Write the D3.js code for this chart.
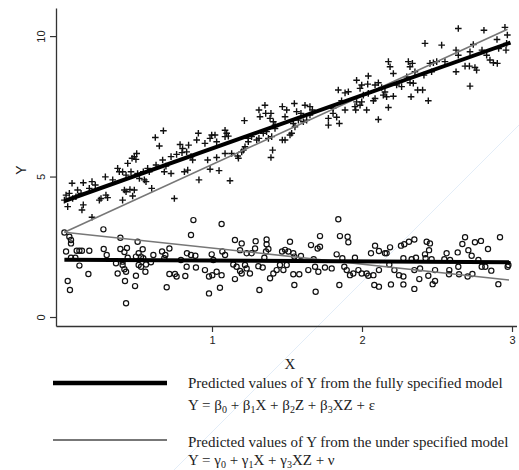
<!DOCTYPE html>
<html>
<head>
<meta charset="utf-8">
<script src="https://cdn.jsdelivr.net/npm/d3@7"></script>
<style>
  body { margin: 0; background: #fff; }
  svg { display: block; }
</style>
</head>
<body>
<svg id="chart" width="519" height="470"></svg>
<script>
/*
    Scatter of Y against X with predicted lines from two models
 */

// group Z = 1, drawn as crosses [X, Y]
const crossPts = [
    [0.676,6.63],[0.622,6.39],[0.649,6.09],[0.787,6.14],[0.804,6.00],[0.844,6.12],[0.831,5.88],[0.800,5.85],
    [0.764,5.79],[0.860,5.71],[0.871,5.59],[0.727,5.71],[0.671,5.59],[0.627,5.41],[0.693,5.37],[0.682,5.17],
    [0.727,5.11],[0.816,5.17],[0.838,5.23],[0.498,5.82],[0.482,5.71],[0.493,5.61],[0.467,5.65],[0.438,5.47],
    [0.371,5.29],[0.382,5.17],[0.404,5.17],[0.427,5.05],[0.460,5.17],[0.504,5.11],[0.542,5.17],[0.571,5.29],
    [0.582,5.17],[0.549,4.88],[0.516,4.93],[0.560,4.82],[0.416,4.52],[0.427,4.46],[0.453,4.54],[0.482,4.52],
    [0.598,4.58],[0.749,4.22],[0.404,4.16],[0.471,4.31],[0.289,4.99],[0.293,4.34],[0.304,4.25],[0.260,4.22],
    [0.249,4.16],[0.338,4.88],[0.222,4.70],[0.200,4.82],[0.182,4.58],[0.142,4.78],[0.104,4.52],[0.067,4.76],
    [0.049,4.40],[0.027,4.34],[0.016,4.16],[0.038,3.93],[0.071,4.22],[0.093,4.28],[0.127,4.40],[0.142,3.99],
    [0.133,3.81],[0.200,3.55],
    [1.353,7.54],[1.313,7.37],[1.320,7.13],[1.358,7.25],[1.393,7.25],[1.387,7.07],[1.409,6.95],[1.420,6.83],
    [1.469,7.49],[1.498,7.37],[1.487,7.13],[1.549,7.60],[1.564,7.31],[1.593,7.25],[1.620,7.54],[1.653,7.49],
    [1.669,7.37],[1.653,7.19],[1.631,7.01],[1.609,6.95],[1.576,7.01],[1.542,6.89],[1.553,6.77],[1.531,6.54],
    [1.520,6.48],[1.487,6.30],[1.469,6.30],[1.398,6.42],[1.376,6.36],[1.420,6.71],[1.364,6.60],[1.342,6.54],
    [1.313,6.36],[1.298,6.30],[1.264,6.42],[1.242,6.36],[1.242,6.24],[1.220,6.06],[1.209,5.94],[1.198,5.88],
    [1.171,5.73],[1.176,5.65],[1.216,6.99],[1.404,5.94],[1.393,5.68],[1.087,6.65],[1.098,6.54],[1.087,6.42],
    [1.109,6.44],[1.020,6.48],[0.998,6.48],[0.987,6.36],[1.031,6.24],[0.953,6.18],[0.909,6.54],[0.898,6.30],
    [0.971,5.59],[1.031,5.68],[1.087,5.82],[1.131,5.82],[0.987,5.26],[1.047,5.21],[0.913,4.88],[1.120,4.85],
    [2.176,9.09],[2.187,8.91],[2.209,8.67],[2.309,9.09],[2.336,9.03],[2.320,8.91],[2.353,8.73],[2.298,8.55],
    [2.320,8.34],[2.342,8.32],[2.264,8.20],[2.231,8.26],[2.327,7.84],[2.371,8.08],[2.109,8.34],[2.131,8.17],
    [2.087,8.26],[2.042,8.58],[2.038,8.29],[1.964,8.43],[1.998,8.26],[1.987,8.14],[2.153,8.01],[2.142,7.90],
    [2.164,7.84],[2.209,7.86],[2.087,7.78],[2.076,7.70],[2.042,7.96],[2.009,7.90],[1.964,7.66],[1.998,7.66],
    [1.987,7.54],[1.953,7.49],[1.909,8.02],[1.887,7.98],[1.842,8.08],[2.031,7.37],[1.958,7.37],[2.176,7.46],
    [2.109,7.03],[1.864,7.70],[1.807,7.43],[1.807,7.25],[1.776,7.07],[1.831,7.11],[1.776,6.83],[1.849,6.89],
    [1.887,7.37],
    [2.642,10.27],[2.813,10.21],[2.953,10.31],[2.969,10.04],[2.420,9.74],[2.531,9.68],[2.742,9.70],[2.627,9.50],
    [2.642,9.32],[2.720,9.44],[2.800,9.50],[2.900,9.88],[2.911,9.56],[2.964,9.74],[2.960,9.50],[2.831,9.32],
    [2.853,9.15],[2.876,9.05],[2.902,9.03],[2.498,9.09],[2.476,9.05],[2.453,9.03],[2.553,9.09],[2.627,8.73],
    [2.687,8.93],[2.716,8.93],[2.753,8.88],[2.764,8.79],[2.720,8.22],[2.413,8.61],[2.464,8.73],[2.404,8.08],
    [2.442,7.70]
];

// group Z = 0, drawn as circles [X, Y]
const circlePts = [
    [0.016,3.01],[0.049,2.86],[0.060,2.74],[0.060,2.62],[0.027,2.33],[0.098,2.36],[0.116,2.36],[0.133,2.36],
    [0.182,2.36],[0.060,2.11],[0.089,2.11],[0.116,1.83],[0.176,1.53],[0.038,1.28],[0.053,0.96],[0.276,3.12],
    [0.389,2.82],[0.504,2.68],[0.278,2.42],[0.298,2.21],[0.389,2.42],[0.433,2.46],[0.416,2.31],[0.538,2.41],
    [0.511,2.27],[0.493,2.15],[0.527,2.15],[0.542,2.09],[0.438,2.11],[0.404,1.97],[0.360,1.91],[0.404,1.85],
    [0.416,1.70],[0.427,1.61],[0.371,1.55],[0.420,1.28],[0.493,1.47],[0.487,1.10],[0.427,0.49],[0.511,1.85],
    [0.527,1.79],[0.560,1.87],[0.556,1.61],[0.593,1.95],[0.609,2.21],[0.667,2.33],[0.689,2.21],[0.716,2.44],
    [0.682,2.09],[0.716,1.53],[0.698,1.06],[0.753,1.53],[0.764,1.44],[0.822,1.46],[0.831,1.79],[0.793,2.03],
    [0.833,2.27],[0.860,2.21],[0.889,2.18],[0.860,2.92],[0.876,3.45],[0.893,1.76],
    [1.064,3.31],[1.153,2.74],[1.198,2.62],[1.187,2.38],[1.291,2.70],[1.287,2.44],[1.364,2.76],[1.364,2.59],
    [1.376,2.42],[1.360,2.33],[1.520,2.68],[1.467,2.33],[1.487,2.39],[1.509,2.33],[1.542,2.27],[1.549,2.15],
    [1.593,2.17],[1.660,2.56],[1.704,2.44],[1.720,2.50],[1.720,2.88],[1.842,3.48],[1.853,2.88],[1.904,2.86],
    [1.909,2.66],[1.831,2.23],[1.869,2.09],[1.678,2.06],[0.998,2.23],[1.069,2.33],[1.087,2.21],[1.231,2.27],
    [1.264,2.27],[1.349,2.11],[0.953,1.67],[0.980,1.44],[1.002,1.49],[1.031,1.61],[1.064,1.49],[1.053,1.04],
    [0.980,0.84],[1.142,1.87],[1.164,1.79],[1.153,1.35],[1.187,1.64],[1.198,1.55],[1.220,1.85],[1.231,1.73],
    [1.253,1.55],[1.309,1.81],[1.338,1.76],[1.316,0.96],[1.387,1.38],[1.409,1.55],[1.431,1.67],[1.453,1.85],
    [1.476,1.67],[1.498,1.85],[1.542,1.52],[1.582,1.52],[1.549,1.14],[1.642,1.67],[1.687,1.79],[1.709,1.61],
    [1.753,1.76],[1.798,1.73],[1.691,0.90],[1.849,1.14],[1.882,1.79],[1.898,1.67],[1.920,1.49],[1.942,1.55],
    [1.009,2.03],
    [1.953,2.11],[1.976,1.67],[1.998,1.55],[2.031,1.55],[2.042,1.47],[2.076,1.49],[2.113,1.67],[2.082,1.14],
    [2.113,1.08],[2.060,2.27],[2.087,2.54],[2.113,2.35],[2.153,2.27],[2.164,2.27],[2.187,2.48],[2.182,1.87],
    [2.193,1.16],[2.216,1.67],[2.247,1.49],[2.276,1.44],[2.276,1.16],[2.260,2.54],[2.282,2.59],[2.313,2.68],
    [2.349,2.76],[2.276,2.09],[2.331,2.06],[2.360,2.11],[2.349,1.67],[2.382,1.35],[2.349,1.00],[2.387,1.73],
    [2.431,2.68],[2.453,2.62],[2.447,2.38],[2.420,2.23],[2.424,2.09],[2.464,2.06],[2.487,1.67],[2.442,1.47],
    [2.471,1.17],[2.487,1.28],[2.549,2.06],[2.564,2.27],[2.587,2.03],[2.582,1.67],[2.580,1.52],[2.642,1.79],
    [2.647,1.52],[2.638,2.30],[2.669,2.60],[2.687,2.84],[2.709,2.38],[2.731,2.18],[2.704,1.44],[2.736,1.53],
    [2.753,2.66],[2.793,2.71],[2.776,2.03],[2.798,1.79],[2.822,1.79],[2.840,2.42],[2.862,1.65],[2.909,1.17],
    [2.920,2.84],[2.971,1.79],[2.976,1.85]
];

// predicted lines, [start, end] as [X, Y]
const fullModelLines = [
    [[0.016, 4.13], [2.99, 9.77]],
    [[0.016, 2.04], [2.99, 1.95]]
];
const underModelLines = [
    [[0.016, 3.02], [2.97, 10.24]],
    [[0.016, 3.02], [2.98, 1.32]]
];

const yTicks = [0, 5, 10];
const xTicks = [1, 2, 3];

const svg = d3.select("#chart");

const x = d3.scaleLinear().domain([-0.04, 3.03]).range([56, 516.5]);
const y = d3.scaleLinear().domain([-0.32, 11.0]).range([326, 8]);

// faint watermark line from the scan
svg.append("line")
    .attr("x1", 519).attr("y1", 125).attr("x2", 174).attr("y2", 470)
    .attr("stroke", "#e3edf8").attr("stroke-width", 1);

// axes
let yAxis = svg.append("g")
    .attr("transform", `translate(${x(-0.04)},0)`)
    .call(d3.axisLeft(y).tickValues(yTicks).tickFormat(d3.format("d")).tickSize(6).tickSizeOuter(0));
yAxis.select(".domain").attr("stroke", "#333").attr("stroke-width", 1.3);
yAxis.selectAll(".tick line").attr("stroke", "#333").attr("stroke-width", 1.2);
yAxis.selectAll(".tick text")
    .attr("font-family", "Liberation Sans, Arial, sans-serif")
    .attr("font-size", 11).attr("fill", "#222")
    .attr("text-anchor", "middle")
    .attr("x", 0).attr("dy", 0)
    .attr("transform", "translate(-15,0) rotate(-90)")
    .attr("dominant-baseline", "central");

let xAxis = svg.append("g")
    .attr("transform", `translate(0,${y(-0.32)})`)
    .call(d3.axisBottom(x).tickValues(xTicks).tickFormat(d3.format("d")).tickSize(6).tickSizeOuter(0));
xAxis.select(".domain").attr("stroke", "#333").attr("stroke-width", 1.3);
xAxis.selectAll(".tick line").attr("stroke", "#333").attr("stroke-width", 1.2);
xAxis.selectAll(".tick text")
    .attr("font-family", "Liberation Sans, Arial, sans-serif")
    .attr("font-size", 11).attr("fill", "#222")
    .attr("y", 10);

// axis titles
svg.append("text")
    .attr("transform", "translate(21,170) rotate(-90)")
    .attr("text-anchor", "middle").attr("dominant-baseline", "central")
    .attr("font-family", "Liberation Sans, Arial, sans-serif")
    .attr("font-size", 14).attr("fill", "#222")
    .text("Y");
svg.append("text")
    .attr("x", 290).attr("y", 369)
    .attr("text-anchor", "middle")
    .attr("font-family", "Liberation Serif, Times New Roman, serif")
    .attr("font-size", 15).attr("fill", "#222")
    .text("X");

// circles
svg.append("g").selectAll("circle")
    .data(circlePts)
    .enter().append("circle")
    .attr("cx", d => x(d[0]))
    .attr("cy", d => y(d[1]))
    .attr("r", 2.6)
    .attr("fill", "none")
    .attr("stroke", "#111")
    .attr("stroke-width", 1.2);

// crosses
svg.append("g").selectAll("path")
    .data(crossPts)
    .enter().append("path")
    .attr("d", d => {
        let cx = x(d[0]), cy = y(d[1]), s = 3.3;
        return `M${cx - s},${cy}H${cx + s}M${cx},${cy - s}V${cy + s}`;
    })
    .attr("stroke", "#111")
    .attr("stroke-width", 1.4);

// predicted lines
const line = d3.line().x(d => x(d[0])).y(d => y(d[1]));

svg.append("g").selectAll("path")
    .data(underModelLines)
    .enter().append("path")
    .attr("d", line)
    .attr("fill", "none")
    .attr("stroke", "#777")
    .attr("stroke-width", 1.6);

svg.append("g").selectAll("path")
    .data(fullModelLines)
    .enter().append("path")
    .attr("d", line)
    .attr("fill", "none")
    .attr("stroke", "#000")
    .attr("stroke-width", 4);

// legend
const serif = "Liberation Serif, Times New Roman, serif";
const legendRows = [
    { y: 383, color: "#000", width: 4.5 },
    { y: 440, color: "#777", width: 2 }
];
svg.append("g").selectAll("line")
    .data(legendRows)
    .enter().append("line")
    .attr("x1", 53).attr("x2", 167)
    .attr("y1", d => d.y).attr("y2", d => d.y)
    .attr("stroke", d => d.color)
    .attr("stroke-width", d => d.width);

function addText(yPos, parts) {
    let t = svg.append("text")
        .attr("x", 188).attr("y", yPos)
        .attr("font-family", serif)
        .attr("font-size", 15)
        .attr("fill", "#222");
    parts.forEach(p => {
        if (typeof p === "string") {
            t.append("tspan").text(p);
        } else {
            // subscript followed by a reset
            t.append("tspan").attr("font-size", 10).attr("dy", 2.5).text(p.sub);
            t.append("tspan").attr("dy", -2.5).text(p.after);
        }
    });
}

addText(388, ["Predicted values of Y from the fully specified model"]);
addText(410, ["Y = β", {sub: "0", after: " + β"}, {sub: "1", after: "X + β"}, {sub: "2", after: "Z + β"}, {sub: "3", after: "XZ + ε"}]);
addText(447, ["Predicted values of Y from the under specified model"]);
addText(465, ["Y = γ", {sub: "0", after: " + γ"}, {sub: "1", after: "X + γ"}, {sub: "3", after: "XZ + ν"}]);
</script>
</body>
</html>
